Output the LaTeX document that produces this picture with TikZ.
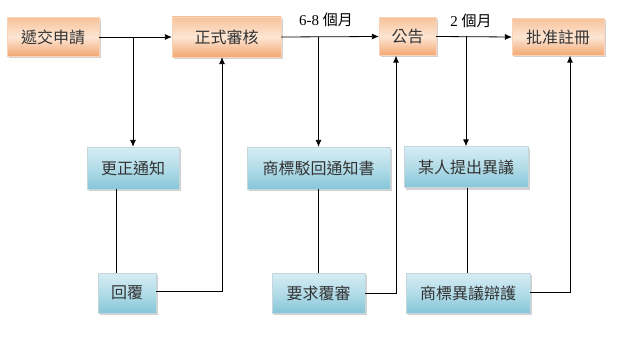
\documentclass[tikz,border=0pt]{standalone}
\usepackage{fontspec}
\setmainfont{Liberation Serif}
\newfontfamily\cjk{Noto Sans CJK TC}
\usetikzlibrary{arrows.meta,shadows}
\definecolor{otop}{HTML}{F7C29A}
\definecolor{omid}{HTML}{FDE6D4}
\definecolor{obot}{HTML}{F2A670}
\definecolor{btop}{HTML}{D6EDF4}
\definecolor{bmid}{HTML}{B3DCE8}
\definecolor{bbot}{HTML}{86C6D9}
\definecolor{txt}{HTML}{333333}
\begin{document}
\begin{tikzpicture}[x=1pt,y=-1pt,
  base/.style={inner sep=0pt,text=txt,font=\cjk\fontsize{16}{18}\selectfont,
    drop shadow={shadow xshift=2pt,shadow yshift=-2pt,fill=black,opacity=0.18}},
  obox/.style={base,top color=otop,bottom color=obot,middle color=omid,draw=otop!70,line width=0.3pt},
  bbox/.style={base,top color=btop,bottom color=bbot,middle color=bmid,draw=btop!80!gray,line width=0.3pt},
  conn/.style={draw=black,line width=0.8pt},
  arr/.style={conn,-{Latex[length=7pt,width=6pt]}},
  lbl/.style={inner sep=0pt,text=black,font=\fontsize{15}{17}\selectfont}]
\useasboundingbox (0,0) rectangle (618,353);
\fill[white] (0,0) rectangle (618,353);
% top row
\node[obox,minimum width=92pt,minimum height=39pt] (a) at (53,37) {遞交申請};
\node[obox,minimum width=109pt,minimum height=40pt] (b) at (226.5,37) {正式審核};
\node[obox,minimum width=57pt,minimum height=38pt] (c) at (407.5,36.5) {公告};
\node[obox,minimum width=92pt,minimum height=37pt] (d) at (558,37) {批准註冊};
% middle row
\node[bbox,minimum width=92pt,minimum height=42pt] (e) at (133,168) {更正通知};
\node[bbox,minimum width=143pt,minimum height=42pt] (f) at (318.5,168) {商標駁回通知書};
\node[bbox,minimum width=124pt,minimum height=41pt] (g) at (466,167) {某人提出異議};
% bottom row
\node[bbox,minimum width=58pt,minimum height=40pt] (h) at (127,293) {回覆};
\node[bbox,minimum width=93pt,minimum height=40pt] (i) at (318.5,293) {要求覆審};
\node[bbox,minimum width=124pt,minimum height=40pt] (j) at (468,293) {商標異議辯護};
% labels
\node[lbl] (l1) at (326,20) {6-8 {\cjk 個月}};
\node[lbl] (l2) at (471,21) {2 {\cjk 個月}};
% main line
\draw[arr] (a.east) -- (b.west);
\draw[arr] (b.east) -- (c.west);
\draw[arr] (c.east) -- (d.west);
% branches down
\coordinate (p1) at (a.east -| e.north);
\coordinate (p2) at (b.east -| f.north);
\coordinate (p3) at (c.east -| g.north);
\draw[arr] (p1) -- (e.north);
\draw[arr] (p2) -- (f.north);
\draw[arr] (p3) -- (g.north);
% down to bottom row
\draw[conn] ([xshift=-17pt]e.south) -- ([xshift=-17pt]e.south |- h.north);
\draw[conn] (f.south) -- (i.north);
\draw[conn] ([xshift=1pt]g.south) -- ([xshift=1pt]g.south |- j.north);
% returns
\draw[arr] ([yshift=2pt]h.east) -| ([xshift=-4.5pt]b.south);
\draw[arr] (i.east) -| ([xshift=-11.5pt]c.south);
\draw[arr] ([yshift=1pt]j.east) -| ([xshift=12pt]d.south);
\end{tikzpicture}
\end{document}
